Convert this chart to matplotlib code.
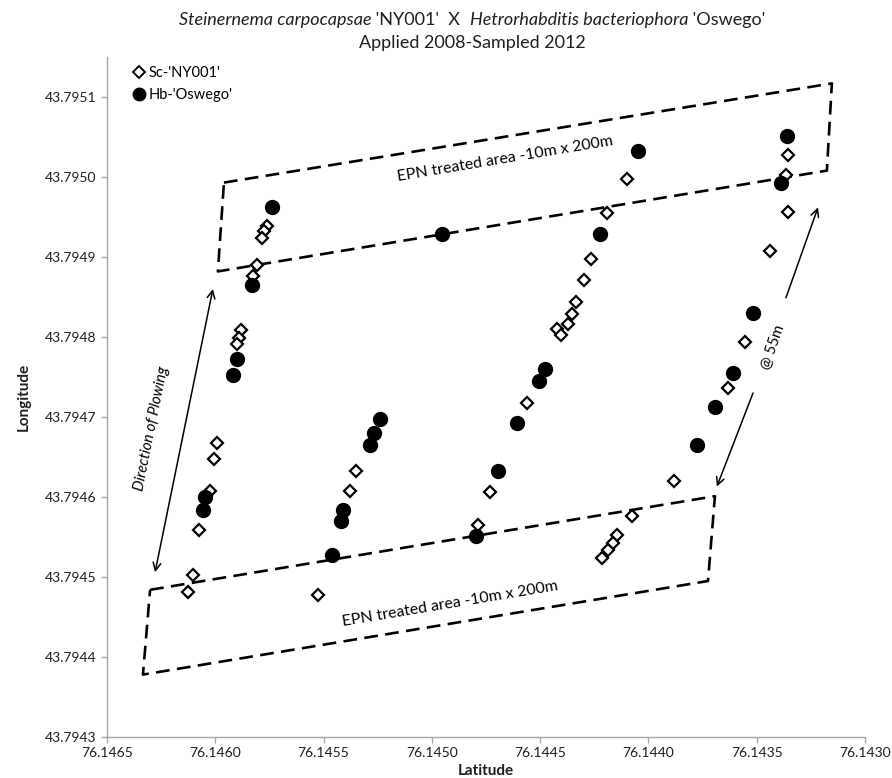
"""Scatter of EPN recovery points across the plowed field, with treated strips."""

import matplotlib

matplotlib.use("Agg")

import matplotlib.pyplot as plt
from matplotlib.lines import Line2D

plt.rcParams["font.family"] = ["Lato", "DejaVu Sans"]

# Sample positions (x = "Latitude", y = "Longitude" as labelled on the chart)
sc_x = [
    76.145761, 76.145775, 76.145784, 76.145807, 76.145826, 76.145881, 76.145891,
    76.145900, 76.145992, 76.146006, 76.146024, 76.146075, 76.146103, 76.146126,
    76.145350, 76.145378, 76.145526,
    76.144787, 76.144732, 76.144561, 76.144422, 76.144404, 76.144372, 76.144353,
    76.144335, 76.144298, 76.144265, 76.144191, 76.144099,
    76.143356, 76.143365, 76.143356, 76.143439, 76.143554, 76.143633, 76.143882,
    76.144076, 76.144145, 76.144164, 76.144187, 76.144215,
]
sc_y = [
    43.794939, 43.794932, 43.794924, 43.794890, 43.794876, 43.794809, 43.794799,
    43.794791, 43.794667, 43.794648, 43.794608, 43.794559, 43.794503, 43.794481,
    43.794632, 43.794607, 43.794477,
    43.794565, 43.794606, 43.794717, 43.794810, 43.794802, 43.794816, 43.794829,
    43.794844, 43.794871, 43.794897, 43.794955, 43.794998,
    43.795027, 43.795003, 43.794956, 43.794908, 43.794794, 43.794736, 43.794620,
    43.794576, 43.794553, 43.794543, 43.794534, 43.794524,
]
hb_x = [
    76.145738, 76.145831, 76.145900, 76.145918, 76.146048, 76.146057,
    76.145240, 76.145267, 76.145286, 76.145410, 76.145420, 76.145461,
    76.144953, 76.144796, 76.144695, 76.144607, 76.144505, 76.144478, 76.144224, 76.144048,
    76.143360, 76.143388, 76.143517, 76.143610, 76.143693, 76.143776,
]
hb_y = [
    43.794963, 43.794865, 43.794772, 43.794752, 43.794600, 43.794584,
    43.794697, 43.794680, 43.794665, 43.794584, 43.794570, 43.794527,
    43.794929, 43.794551, 43.794632, 43.794693, 43.794745, 43.794760, 43.794929, 43.795032,
    43.795051, 43.794992, 43.794830, 43.794755, 43.794713, 43.794665,
]

# Outline of the two treated strips (corner points)
upper_strip_x = [76.145960, 76.143153, 76.143176, 76.145988]
upper_strip_y = [43.794993, 43.795117, 43.795008, 43.794882]
lower_strip_x = [76.146301, 76.143693, 76.143725, 76.146334]
lower_strip_y = [43.794484, 43.794601, 43.794495, 43.794378]

x_ticks = [76.1465, 76.1460, 76.1455, 76.1450, 76.1445, 76.1440, 76.1435, 76.1430]
y_ticks = [43.7943, 43.7944, 43.7945, 43.7946, 43.7947, 43.7948, 43.7949, 43.7950, 43.7951]

AXIS_GREY = "#a6a6a6"
TEXT_GREY = "#1f1f1f"

fig = plt.figure(figsize=(8.92, 7.78), dpi=100)
ax = fig.add_axes([107 / 892, 1 - 737 / 778, (865 - 107) / 892, (737 - 57) / 778])

ax.plot(sc_x, sc_y, linestyle="none", marker="D", markersize=6.6,
        markerfacecolor="white", markeredgecolor="black", markeredgewidth=1.6, zorder=3)
ax.plot(hb_x, hb_y, linestyle="none", marker="o", markersize=10,
        markerfacecolor="black", markeredgecolor="black", zorder=4)

ax.set_xlim(x_ticks[0], x_ticks[-1])
ax.set_ylim(43.7943, 43.79515)
ax.set_xticks(x_ticks)
ax.set_yticks(y_ticks)
ax.set_xticklabels([f"{v:.4f}" for v in x_ticks])
ax.set_yticklabels([f"{v:.4f}" for v in y_ticks])
ax.tick_params(colors=AXIS_GREY, labelcolor=TEXT_GREY, labelsize=10, length=4, width=1)
ax.tick_params(axis="x", pad=3)
for side in ["top", "right"]:
    ax.spines[side].set_visible(False)
for side in ["left", "bottom"]:
    ax.spines[side].set_color(AXIS_GREY)
    ax.spines[side].set_linewidth(1)

ax.set_xlabel("Latitude", fontsize=11, fontweight="bold", color=TEXT_GREY, labelpad=4)
ax.set_ylabel("Longitude", fontsize=11, fontweight="bold", color=TEXT_GREY, labelpad=10)

# treated strips as dashed outlines
for xs, ys in [(upper_strip_x, upper_strip_y), (lower_strip_x, lower_strip_y)]:
    ax.plot(xs + xs[:1], ys + ys[:1], color="black", linewidth=1.9,
            dashes=(5.2, 2.8), solid_joinstyle="miter", zorder=2)

ax.text(76.144660, 43.795022, "EPN treated area -10m x 200m", fontsize=11.4,
        rotation=9.5, ha="center", va="center", rotation_mode="anchor")
ax.text(76.144916, 43.794466, "EPN treated area -10m x 200m", fontsize=11.4,
        rotation=9.5, ha="center", va="center", rotation_mode="anchor")

# direction of plowing
ax.annotate("", xy=(76.146011, 43.794860), xytext=(76.146278, 43.794506),
            arrowprops=dict(arrowstyle="<->", color="black", lw=1.1,
                            shrinkA=0, shrinkB=0, mutation_scale=14))
ax.text(76.146292, 43.794685, "Direction of Plowing", fontsize=10.8, style="italic",
        rotation=78.6, ha="center", va="center", rotation_mode="anchor")

# spacing between the two treated strips
ax.annotate("", xy=(76.143217, 43.794962), xytext=(76.143365, 43.794849),
            arrowprops=dict(arrowstyle="->", color="black", lw=1.1,
                            shrinkA=0, shrinkB=0, mutation_scale=14))
ax.annotate("", xy=(76.143684, 43.794613), xytext=(76.143517, 43.794730),
            arrowprops=dict(arrowstyle="->", color="black", lw=1.1,
                            shrinkA=0, shrinkB=0, mutation_scale=14))
ax.text(76.143425, 43.794787, "@ 55m", fontsize=10.8, rotation=70.6,
        ha="center", va="center", rotation_mode="anchor")

handles = [
    Line2D([], [], linestyle="none", marker="D", markersize=6, markerfacecolor="white",
           markeredgecolor="black", markeredgewidth=1.4),
    Line2D([], [], linestyle="none", marker="o", markersize=9, color="black"),
]
ax.legend(handles, ["Sc-'NY001'", "Hb-'Oswego'"], loc="upper left",
          bbox_to_anchor=(0.025, 0.995), frameon=False, fontsize=10.5,
          handletextpad=0.15, handlelength=1.0, labelspacing=0.55, borderaxespad=0)


def centered_mixed_line(pieces, y_px, fontsize, x_center_px):
    """Draw a line of text made of (string, style) pieces, centred on x_center_px."""
    renderer = fig.canvas.get_renderer()
    texts, widths = [], []
    for s, style in pieces:
        t = fig.text(0, 1 - y_px / 778, s, fontsize=fontsize, style=style,
                     ha="left", va="center", color=TEXT_GREY)
        widths.append(t.get_window_extent(renderer).width)
        texts.append(t)
    x = x_center_px - sum(widths) / 2
    for t, w in zip(texts, widths):
        t.set_x(x / fig.bbox.width)
        x += w


centered_mixed_line(
    [("Steinernema carpocapsae", "italic"), (" 'NY001'  X  ", "normal"),
     ("Hetrorhabditis bacteriophora", "italic"), (" 'Oswego'", "normal")],
    20, 13, 472)
centered_mixed_line([("Applied 2008-Sampled 2012", "normal")], 43, 13, 472)

fig.savefig("out.png", dpi=100)
